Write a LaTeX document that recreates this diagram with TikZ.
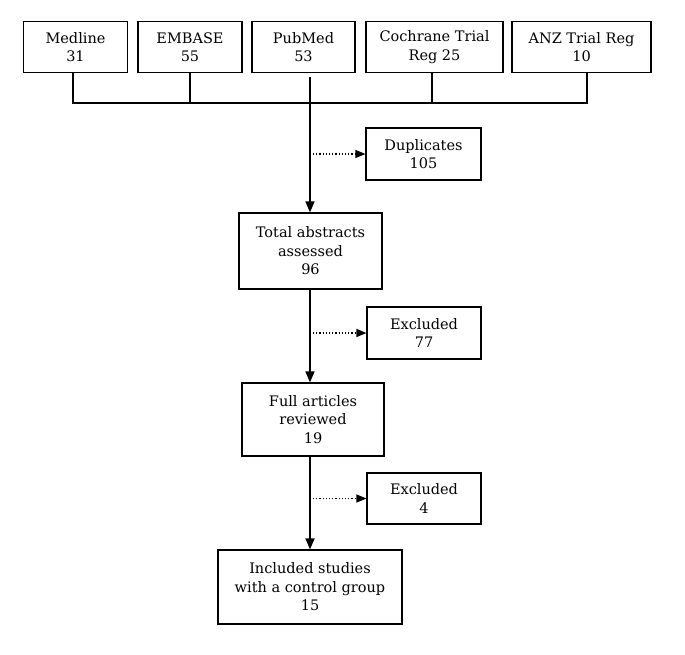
\documentclass[tikz,border=0pt]{standalone}
\usepackage{fontspec}
\setmainfont{DejaVu Serif}
\usetikzlibrary{arrows.meta}

\begin{document}
\begin{tikzpicture}[x=1pt, y=-1pt,
    box/.style={draw, line width=1.2pt, align=center, inner sep=0pt, minimum height=51pt, font=\fontsize{14.5}{18.5}\selectfont},
    main/.style={line width=1.6pt, -{Triangle[length=11pt, width=9pt]}},
    skip/.style={dotted, line width=1.2pt, -{Triangle[length=10pt, width=8pt]}}
  ]
    \useasboundingbox (0,0) rectangle (685,654);

    % Sources
    \node[box, minimum width=104pt] (medline) at (75.5, 47) {Medline\\31};
    \node[box, minimum width=104pt] (embase) at (190, 47) {EMBASE\\55};
    \node[box, minimum width=103pt] (pubmed) at (303.5, 47) {PubMed\\53};
    \node[box, minimum width=137pt] (cochrane) at (434.5, 47) {Cochrane Trial\\Reg 25};
    \node[box, minimum width=139pt] (anz) at (581.5, 47) {ANZ Trial Reg\\10};

    % Screening steps
    \node[box, minimum width=115pt, minimum height=52pt] (dup) at (423.5, 154) {Duplicates\\105};
    \node[box, minimum width=143pt, minimum height=76pt] (total) at (310.5, 251) {Total abstracts\\assessed\\96};
    \node[box, minimum width=114pt, minimum height=52pt] (excla) at (424, 333) {Excluded\\77};
    \node[box, minimum width=142pt, minimum height=73pt] (full) at (313, 419.5) {Full articles\\reviewed\\19};
    \node[box, minimum width=114pt] (exclb) at (424, 498.5) {Excluded\\4};
    \node[box, minimum width=184pt, minimum height=74pt] (incl) at (310, 587) {Included studies\\with a control group\\15};

    % Joining line
    \coordinate (bus) at (0, 103);
    \coordinate (spine) at (310, 77);
    \draw[line width=1.2pt] ([xshift=-2.5pt]medline.south) |- (bus -| anz.south) -- ++(5.5,0) -- ([xshift=5.5pt]anz.south);
    \draw[line width=1.2pt] (embase.south) -- (embase.south |- bus);
    \draw[line width=1.2pt] ([xshift=-2.5pt]cochrane.south) -- ([xshift=-2.5pt]cochrane.south |- bus);

    % Main flow
    \draw[main] (spine) -- (spine |- total.north);
    \draw[main] (spine |- total.south) -- (spine |- full.north);
    \draw[main] (spine |- full.south) -- (spine |- incl.north);

    % Removed records
    \draw[skip] ([xshift=3pt]spine |- dup.west) -- (dup.west);
    \draw[skip] ([xshift=3pt]spine |- excla.west) -- (excla.west);
    \draw[skip] ([xshift=3pt]spine |- exclb.west) -- (exclb.west);
\end{tikzpicture}
\end{document}
